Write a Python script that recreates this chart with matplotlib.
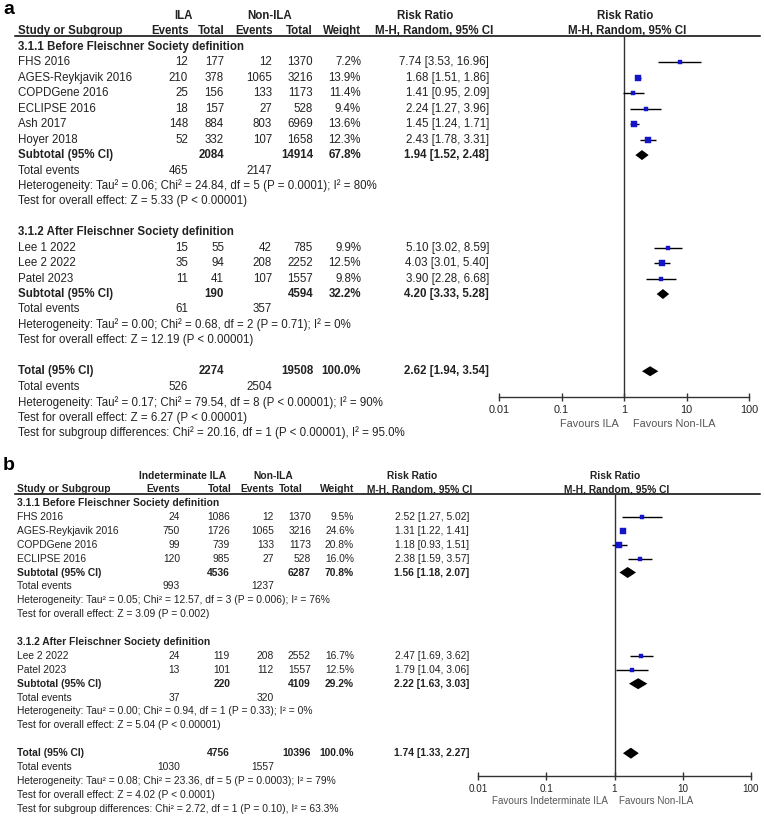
import matplotlib
matplotlib.use('Agg')
import matplotlib.pyplot as plt
from matplotlib.ticker import NullLocator, FixedLocator, FixedFormatter
import numpy as np

plt.rcParams['font.family'] = ['Liberation Sans', 'DejaVu Sans']

# ---------------- Panel a data ----------------
A_SUBGROUPS = ["3.1.1 Before Fleischner Society definition",
               "3.1.2 After Fleischner Society definition"]
A_STUDIES = ["FHS 2016", "AGES-Reykjavik 2016", "COPDGene 2016", "ECLIPSE 2016",
             "Ash 2017", "Hoyer 2018", "Lee 1 2022", "Lee 2 2022", "Patel 2023"]
A_GROUP = [0, 0, 0, 0, 0, 0, 1, 1, 1]
A_EXP_EVENTS = [12, 210, 25, 18, 148, 52, 15, 35, 11]
A_EXP_TOTAL = [177, 378, 156, 157, 884, 332, 55, 94, 41]
A_CTL_EVENTS = [12, 1065, 133, 27, 803, 107, 42, 208, 107]
A_CTL_TOTAL = [1370, 3216, 1173, 528, 6969, 1658, 785, 2252, 1557]
A_WEIGHT = [7.2, 13.9, 11.4, 9.4, 13.6, 12.3, 9.9, 12.5, 9.8]
A_RR = [7.74, 1.68, 1.41, 2.24, 1.45, 2.43, 5.10, 4.03, 3.90]
A_LO = [3.53, 1.51, 0.95, 1.27, 1.24, 1.78, 3.02, 3.01, 2.28]
A_HI = [16.96, 1.86, 2.09, 3.96, 1.71, 3.31, 8.59, 5.40, 6.68]
A_SUB_EXP_TOTAL = [2084, 190]
A_SUB_CTL_TOTAL = [14914, 4594]
A_SUB_WEIGHT = [67.8, 32.2]
A_SUB_RR = [1.94, 4.20]
A_SUB_LO = [1.52, 3.33]
A_SUB_HI = [2.48, 5.28]
A_SUB_EXP_EVENTS = [465, 61]
A_SUB_CTL_EVENTS = [2147, 357]
A_SUB_HET = ["Heterogeneity: Tau² = 0.06; Chi² = 24.84, df = 5 (P = 0.0001); I² = 80%",
             "Heterogeneity: Tau² = 0.00; Chi² = 0.68, df = 2 (P = 0.71); I² = 0%"]
A_SUB_Z = ["Test for overall effect: Z = 5.33 (P < 0.00001)",
           "Test for overall effect: Z = 12.19 (P < 0.00001)"]
A_TOT_EXP_TOTAL = 2274
A_TOT_CTL_TOTAL = 19508
A_TOT_WEIGHT = 100.0
A_TOT_RR, A_TOT_LO, A_TOT_HI = 2.62, 1.94, 3.54
A_TOT_EXP_EVENTS = 526
A_TOT_CTL_EVENTS = 2504
A_TOT_HET = "Heterogeneity: Tau² = 0.17; Chi² = 79.54, df = 8 (P < 0.00001); I² = 90%"
A_TOT_Z = "Test for overall effect: Z = 6.27 (P < 0.00001)"
A_SUBDIFF = "Test for subgroup differences: Chi² = 20.16, df = 1 (P < 0.00001), I² = 95.0%"
A_EXP_LABEL = "ILA"
A_FAV_LEFT = "Favours ILA"
A_FAV_RIGHT = "Favours Non-ILA"

# ---------------- Panel b data ----------------
B_SUBGROUPS = ["3.1.1 Before Fleischner Society definition",
               "3.1.2 After Fleischner Society definition"]
B_STUDIES = ["FHS 2016", "AGES-Reykjavik 2016", "COPDGene 2016", "ECLIPSE 2016",
             "Lee 2 2022", "Patel 2023"]
B_GROUP = [0, 0, 0, 0, 1, 1]
B_EXP_EVENTS = [24, 750, 99, 120, 24, 13]
B_EXP_TOTAL = [1086, 1726, 739, 985, 119, 101]
B_CTL_EVENTS = [12, 1065, 133, 27, 208, 112]
B_CTL_TOTAL = [1370, 3216, 1173, 528, 2552, 1557]
B_WEIGHT = [9.5, 24.6, 20.8, 16.0, 16.7, 12.5]
B_RR = [2.52, 1.31, 1.18, 2.38, 2.47, 1.79]
B_LO = [1.27, 1.22, 0.93, 1.59, 1.69, 1.04]
B_HI = [5.02, 1.41, 1.51, 3.57, 3.62, 3.06]
B_SUB_EXP_TOTAL = [4536, 220]
B_SUB_CTL_TOTAL = [6287, 4109]
B_SUB_WEIGHT = [70.8, 29.2]
B_SUB_RR = [1.56, 2.22]
B_SUB_LO = [1.18, 1.63]
B_SUB_HI = [2.07, 3.03]
B_SUB_EXP_EVENTS = [993, 37]
B_SUB_CTL_EVENTS = [1237, 320]
B_SUB_HET = ["Heterogeneity: Tau² = 0.05; Chi² = 12.57, df = 3 (P = 0.006); I² = 76%",
             "Heterogeneity: Tau² = 0.00; Chi² = 0.94, df = 1 (P = 0.33); I² = 0%"]
B_SUB_Z = ["Test for overall effect: Z = 3.09 (P = 0.002)",
           "Test for overall effect: Z = 5.04 (P < 0.00001)"]
B_TOT_EXP_TOTAL = 4756
B_TOT_CTL_TOTAL = 10396
B_TOT_WEIGHT = 100.0
B_TOT_RR, B_TOT_LO, B_TOT_HI = 1.74, 1.33, 2.27
B_TOT_EXP_EVENTS = 1030
B_TOT_CTL_EVENTS = 1557
B_TOT_HET = "Heterogeneity: Tau² = 0.08; Chi² = 23.36, df = 5 (P = 0.0003); I² = 79%"
B_TOT_Z = "Test for overall effect: Z = 4.02 (P < 0.0001)"
B_SUBDIFF = "Test for subgroup differences: Chi² = 2.72, df = 1 (P = 0.10), I² = 63.3%"
B_EXP_LABEL = "Indeterminate ILA"
B_FAV_LEFT = "Favours Indeterminate ILA"
B_FAV_RIGHT = "Favours Non-ILA"

TICK_VALUES = [0.01, 0.1, 1, 10, 100]
TICK_LABELS = ["0.01", "0.1", "1", "10", "100"]

# ---------------- layout (pixel positions) ----------------
W, H = 764, 816
LAYOUT_A = dict(label='a', label_x=3, label_y=9, h1_y=16, h2_y=31, line_y=36,
                row0=47, dy=15.44, fs=8.3, tfs=7.8, name_x=18,
                c_ev1=188, c_n1=224, c_ev2=272, c_n2=313, c_w=361, c_rr=489,
                h_ev1=189, h_n1=225, h_ev2=273, h_n2=313, h_w=361,
                grp1_cx=183, grp2_cx=270, rr_title_cx=425, rr_sub_cx=434,
                plot_title_cx=625, plot_sub_cx=627,
                ax_x0=499, ax_x1=749, axis_y=397, fav_y=424,
                fav_left_x=619, fav_right_x=633, box=5.5, dia=5.0)
LAYOUT_B = dict(label='b', label_x=3, label_y=466, h1_y=476, h2_y=489, line_y=494,
                row0=503, dy=13.9, fs=7.4, tfs=7.1, name_x=17,
                c_ev1=180, c_n1=230, c_ev2=274, c_n2=311, c_w=354, c_rr=469,
                h_ev1=180, h_n1=232, h_ev2=274, h_n2=303, h_w=354,
                grp1_cx=183, grp2_cx=273, rr_title_cx=412, rr_sub_cx=420,
                plot_title_cx=615, plot_sub_cx=617,
                ax_x0=478, ax_x1=751, axis_y=776, fav_y=801,
                fav_left_x=608, fav_right_x=619, box=5.5, dia=5.5)

TXT = '#222222'
GREY = '#555555'
BLUE = '#1414c8'
LINE = '#333333'

fig = plt.figure(figsize=(W / 100, H / 100), dpi=100)
ax = fig.add_axes([0, 0, 1, 1])
ax.set_xlim(0, W)
ax.set_ylim(H, 0)
ax.axis('off')


def rrtxt(r, lo, hi):
    return f"{r:.2f} [{lo:.2f}, {hi:.2f}]"


def draw_panel(L, studies, group, ev1, n1, ev2, n2, wts, rr, lo, hi,
               subgroups, s_n1, s_n2, s_w, s_rr, s_lo, s_hi, s_ev1, s_ev2, s_het, s_z,
               t_n1, t_n2, t_w, t_rr, t_lo, t_hi, t_ev1, t_ev2, t_het, t_z, subdiff,
               exp_label, fav_left, fav_right):
    fs = L['fs']

    def t(x, y, s, ha='left', bold=False, color=TXT, size=None):
        ax.text(x, y, s, ha=ha, va='center', fontsize=size or fs,
                fontweight='bold' if bold else 'normal', color=color)

    # panel label
    ax.text(L['label_x'], L['label_y'], L['label'], ha='left', va='center',
            fontsize=14, fontweight='bold', color='black')

    # headers
    t(L['grp1_cx'], L['h1_y'], exp_label, 'center', True)
    t(L['grp2_cx'], L['h1_y'], "Non-ILA", 'center', True)
    t(L['rr_title_cx'], L['h1_y'], "Risk Ratio", 'center', True)
    t(L['plot_title_cx'], L['h1_y'], "Risk Ratio", 'center', True)
    t(L['name_x'], L['h2_y'], "Study or Subgroup", 'left', True)
    t(L['h_ev1'], L['h2_y'], "Events", 'right', True)
    t(L['h_n1'], L['h2_y'], "Total", 'right', True)
    t(L['h_ev2'], L['h2_y'], "Events", 'right', True)
    t(L['h_n2'], L['h2_y'], "Total", 'right', True)
    t(L['h_w'], L['h2_y'], "Weight", 'right', True)
    t(L['rr_sub_cx'], L['h2_y'], "M-H, Random, 95% CI", 'center', True)
    t(L['plot_sub_cx'], L['h2_y'], "M-H, Random, 95% CI", 'center', True)
    ax.plot([15, 760], [L['line_y'], L['line_y']], color='black', lw=1.1)

    # forest axes (y in pixel units, same as the text axes)
    x0, x1, ytop, ybot = L['ax_x0'], L['ax_x1'], L['line_y'], L['axis_y']
    fa = fig.add_axes([x0 / W, 1 - ybot / H, (x1 - x0) / W, (ybot - ytop) / H])
    fa.patch.set_alpha(0)
    fa.set_xscale('log')
    fa.set_xlim(TICK_VALUES[0], TICK_VALUES[-1])
    fa.set_ylim(ybot, ytop)
    for sp in ['top', 'left', 'right']:
        fa.spines[sp].set_visible(False)
    fa.spines['bottom'].set_color(LINE)
    fa.spines['bottom'].set_linewidth(1.0)
    fa.xaxis.set_major_locator(FixedLocator(TICK_VALUES))
    fa.xaxis.set_major_formatter(FixedFormatter(TICK_LABELS))
    fa.xaxis.set_minor_locator(NullLocator())
    fa.set_yticks([])
    fa.tick_params(axis='x', direction='inout', length=6, width=1.0, color=LINE,
                   labelsize=L['tfs'], labelcolor=TXT, pad=2.5)
    fa.axvline(1, color=LINE, lw=1.0)

    wmax = max(wts)
    ry = lambda i: L['row0'] + L['dy'] * i
    idx = 0
    for g in range(2):
        t(L['name_x'], ry(idx), subgroups[g], 'left', True)
        idx += 1
        for k in range(len(studies)):
            if group[k] != g:
                continue
            y = ry(idx)
            t(L['name_x'], y, studies[k])
            t(L['c_ev1'], y, str(ev1[k]), 'right')
            t(L['c_n1'], y, str(n1[k]), 'right')
            t(L['c_ev2'], y, str(ev2[k]), 'right')
            t(L['c_n2'], y, str(n2[k]), 'right')
            t(L['c_w'], y, f"{wts[k]:.1f}%", 'right')
            t(L['c_rr'], y, rrtxt(rr[k], lo[k], hi[k]), 'right')
            fa.hlines(y, lo[k], hi[k], color='black', lw=1.0, zorder=2)
            side = L['box'] * np.sqrt(wts[k] / wmax)
            fa.plot([rr[k]], [y], marker='s', ms=side * 0.72, color=BLUE,
                    mec=BLUE, mew=0.3, zorder=3, linestyle='none')
            idx += 1
        y = ry(idx)
        t(L['name_x'], y, "Subtotal (95% CI)", 'left', True)
        t(L['c_n1'], y, str(s_n1[g]), 'right', True)
        t(L['c_n2'], y, str(s_n2[g]), 'right', True)
        t(L['c_w'], y, f"{s_w[g]:.1f}%", 'right', True)
        t(L['c_rr'], y, rrtxt(s_rr[g], s_lo[g], s_hi[g]), 'right', True)
        h = L['dia']
        fa.fill([s_lo[g], s_rr[g], s_hi[g], s_rr[g]], [y, y - h, y, y + h],
                color='black', lw=0, zorder=3)
        idx += 1
        y = ry(idx)
        t(L['name_x'], y, "Total events")
        t(L['c_ev1'], y, str(s_ev1[g]), 'right')
        t(L['c_ev2'], y, str(s_ev2[g]), 'right')
        idx += 1
        t(L['name_x'], ry(idx), s_het[g])
        idx += 1
        t(L['name_x'], ry(idx), s_z[g])
        idx += 2
    # overall
    y = ry(idx)
    t(L['name_x'], y, "Total (95% CI)", 'left', True)
    t(L['c_n1'], y, str(t_n1), 'right', True)
    t(L['c_n2'], y, str(t_n2), 'right', True)
    t(L['c_w'], y, f"{t_w:.1f}%", 'right', True)
    t(L['c_rr'], y, rrtxt(t_rr, t_lo, t_hi), 'right', True)
    h = L['dia']
    fa.fill([t_lo, t_rr, t_hi, t_rr], [y, y - h, y, y + h], color='black', lw=0, zorder=3)
    idx += 1
    y = ry(idx)
    t(L['name_x'], y, "Total events")
    t(L['c_ev1'], y, str(t_ev1), 'right')
    t(L['c_ev2'], y, str(t_ev2), 'right')
    idx += 1
    t(L['name_x'], ry(idx), t_het)
    idx += 1
    t(L['name_x'], ry(idx), t_z)
    idx += 1
    t(L['name_x'], ry(idx), subdiff)

    # favours labels
    t(L['fav_left_x'], L['fav_y'], fav_left, 'right', color=GREY, size=L['tfs'])
    t(L['fav_right_x'], L['fav_y'], fav_right, 'left', color=GREY, size=L['tfs'])


draw_panel(LAYOUT_A, A_STUDIES, A_GROUP, A_EXP_EVENTS, A_EXP_TOTAL, A_CTL_EVENTS,
           A_CTL_TOTAL, A_WEIGHT, A_RR, A_LO, A_HI,
           A_SUBGROUPS, A_SUB_EXP_TOTAL, A_SUB_CTL_TOTAL, A_SUB_WEIGHT, A_SUB_RR,
           A_SUB_LO, A_SUB_HI, A_SUB_EXP_EVENTS, A_SUB_CTL_EVENTS, A_SUB_HET, A_SUB_Z,
           A_TOT_EXP_TOTAL, A_TOT_CTL_TOTAL, A_TOT_WEIGHT, A_TOT_RR, A_TOT_LO, A_TOT_HI,
           A_TOT_EXP_EVENTS, A_TOT_CTL_EVENTS, A_TOT_HET, A_TOT_Z, A_SUBDIFF,
           A_EXP_LABEL, A_FAV_LEFT, A_FAV_RIGHT)

draw_panel(LAYOUT_B, B_STUDIES, B_GROUP, B_EXP_EVENTS, B_EXP_TOTAL, B_CTL_EVENTS,
           B_CTL_TOTAL, B_WEIGHT, B_RR, B_LO, B_HI,
           B_SUBGROUPS, B_SUB_EXP_TOTAL, B_SUB_CTL_TOTAL, B_SUB_WEIGHT, B_SUB_RR,
           B_SUB_LO, B_SUB_HI, B_SUB_EXP_EVENTS, B_SUB_CTL_EVENTS, B_SUB_HET, B_SUB_Z,
           B_TOT_EXP_TOTAL, B_TOT_CTL_TOTAL, B_TOT_WEIGHT, B_TOT_RR, B_TOT_LO, B_TOT_HI,
           B_TOT_EXP_EVENTS, B_TOT_CTL_EVENTS, B_TOT_HET, B_TOT_Z, B_SUBDIFF,
           B_EXP_LABEL, B_FAV_LEFT, B_FAV_RIGHT)

fig.savefig('out.png', dpi=100, facecolor='white')
